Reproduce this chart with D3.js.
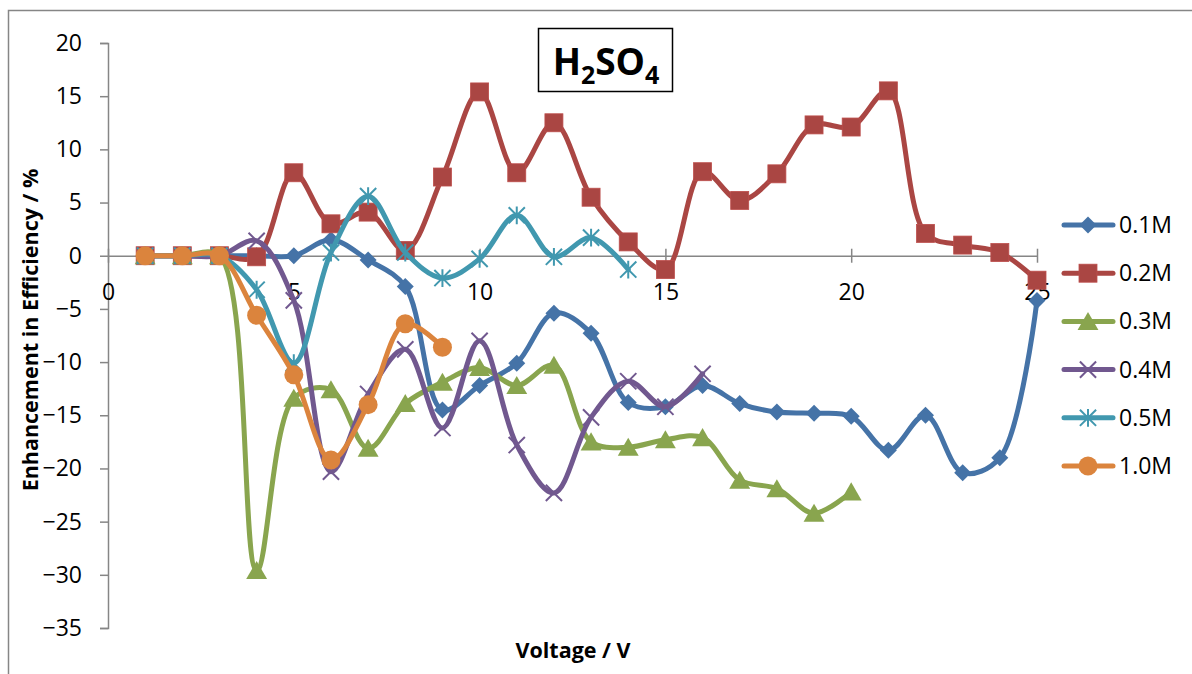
<!DOCTYPE html>
<html>
<head>
<meta charset="utf-8">
<script src="https://cdn.jsdelivr.net/npm/d3@7/dist/d3.min.js"></script>
<style>
  html, body { margin: 0; padding: 0; background: #fff; }
  svg { display: block; font-family: "Open Sans", "Noto Sans", sans-serif; }
</style>
</head>
<body>
<svg id="chart" width="1192" height="674"></svg>
<script>
// ---- data ----
const seriesNames = ["0.1M", "0.2M", "0.3M", "0.4M", "0.5M", "1.0M"];
const voltage = d3.range(1, 26);
const s01 = [0, 0, 0, 0, 0, 1.5, -0.4, -2.9, -14.5, -12.2, -10.1, -5.4, -7.3, -13.8, -14.2, -12.2, -13.9, -14.7, -14.8, -15.1, -18.3, -15.0, -20.4, -19.0, -4.2];
const s02 = [0, 0, 0, -0.1, 7.8, 3.0, 4.1, 0.5, 7.4, 15.4, 7.8, 12.5, 5.5, 1.3, -1.3, 7.9, 5.2, 7.7, 12.3, 12.1, 15.5, 2.1, 1.0, 0.3, -2.3];
const s03 = [0, 0, 0, -29.6, -13.4, -12.6, -18.1, -13.9, -11.9, -10.5, -12.2, -10.3, -17.5, -18.0, -17.3, -17.1, -21.1, -21.9, -24.2, -22.2];
const s04 = [0, 0, 0, 1.4, -4.2, -20.3, -13.0, -8.8, -16.2, -8.0, -17.8, -22.3, -15.2, -11.8, -14.2, -11.1];
const s05 = [0, 0, 0, -3.2, -10.1, 0.3, 5.6, 0.3, -2.1, -0.3, 3.8, -0.1, 1.7, -1.3];
const s10 = [0, 0, 0, -5.6, -11.2, -19.2, -14.0, -6.4, -8.6];
const seriesValues = [s01, s02, s03, s04, s05, s10];
const colors = ["#4573A7", "#AA4643", "#89A54E", "#71588F", "#4198AF", "#DB843D"];
const markers = ["diamond", "square", "triangle", "x", "asterisk", "circle"];
const xTicks = [0, 5, 10, 15, 20, 25];
const yTicks = [20, 15, 10, 5, 0, -5, -10, -15, -20, -25, -30, -35];

// ---- layout ----
const svg = d3.select("#chart");
const x = d3.scaleLinear().domain([0, 25]).range([108, 1037]);
const y = d3.scaleLinear().domain([-35, 20]).range([628, 43]);
const axisColor = "#868686";

// outer chart border (left & top visible)
svg.append("path")
  .attr("d", "M8.5,674 L8.5,10.5 L1192,10.5")
  .attr("fill", "none").attr("stroke", axisColor).attr("stroke-width", 1.5);

// y axis
const yAxis = d3.axisLeft(y).tickValues(yTicks).tickSize(8).tickPadding(18).tickFormat(d3.format("d"));
const gy = svg.append("g").attr("transform", "translate(108,0)").call(yAxis);
gy.select(".domain").attr("stroke", axisColor).attr("stroke-width", 1.5);
gy.selectAll(".tick line").attr("stroke", axisColor).attr("stroke-width", 1.5);
gy.selectAll(".tick text").attr("font-size", 23).attr("fill", "#000")
  .attr("font-family", "'Open Sans', sans-serif");

// x axis at y=0
const xAxis = d3.axisBottom(x).tickValues(xTicks).tickSize(0).tickFormat(d3.format("d"));
const gx = svg.append("g").attr("transform", `translate(0,${y(0)})`).call(xAxis);
gx.select(".domain").attr("stroke", axisColor).attr("stroke-width", 1.5);
gx.selectAll(".tick line").remove();
gx.selectAll(".tick").append("line")
  .attr("y1", -7).attr("y2", 7).attr("stroke", axisColor).attr("stroke-width", 1.5);
gx.selectAll(".tick text").attr("font-size", 23).attr("fill", "#000")
  .attr("y", 28).attr("font-family", "'Open Sans', sans-serif");

// axis titles
svg.append("text")
  .attr("x", 573).attr("y", 658)
  .attr("text-anchor", "middle").attr("font-weight", "bold").attr("font-size", 21.5)
  .text("Voltage / V");
svg.append("text")
  .attr("transform", "translate(38,330) rotate(-90)")
  .attr("text-anchor", "middle").attr("font-weight", "bold").attr("font-size", 21.5)
  .text("Enhancement in Efficiency / %");

// title box
svg.append("rect").attr("x", 538.5).attr("y", 28.5).attr("width", 134).attr("height", 63)
  .attr("fill", "#fff").attr("stroke", "#000").attr("stroke-width", 1.5);
const title = svg.append("text").attr("x", 606).attr("y", 75)
  .attr("text-anchor", "middle").attr("font-weight", "bold").attr("font-size", 37);
title.append("tspan").text("H");
title.append("tspan").attr("font-size", 25).attr("dy", 9).text("2");
title.append("tspan").attr("dy", -9).text("SO");
title.append("tspan").attr("font-size", 25).attr("dy", 9).text("4");

// marker drawing
function drawMarker(g, type, color, size) {
  const s = size;
  if (type === "diamond") {
    g.append("path").attr("d", `M0,${-s/2} L${s/2},0 L0,${s/2} L${-s/2},0 Z`).attr("fill", color);
  } else if (type === "square") {
    g.append("rect").attr("x", -s/2).attr("y", -s/2).attr("width", s).attr("height", s)
      .attr("fill", color).attr("stroke", d3.color(color).brighter(0.3)).attr("stroke-width", 0.8);
  } else if (type === "triangle") {
    g.append("path").attr("d", `M0,${-s/2} L${s*0.55},${s*0.45} L${-s*0.55},${s*0.45} Z`).attr("fill", color);
  } else if (type === "x") {
    const h = s * 0.45;
    g.append("path").attr("d", `M${-h},${-h} L${h},${h} M${-h},${h} L${h},${-h}`)
      .attr("stroke", color).attr("stroke-width", 2);
  } else if (type === "asterisk") {
    const h = s * 0.45;
    g.append("path").attr("d", `M${-h},${-h} L${h},${h} M${-h},${h} L${h},${-h} M0,${-h*1.1} L0,${h*1.1}`)
      .attr("stroke", color).attr("stroke-width", 2);
  } else if (type === "circle") {
    g.append("circle").attr("r", s/2).attr("fill", color);
  }
}
const markerSize = { diamond: 17, square: 18, triangle: 19, x: 18, asterisk: 18, circle: 19 };

// series
const line = d3.line().x(d => x(d[0])).y(d => y(d[1])).curve(d3.curveCatmullRom.alpha(0.5));
seriesValues.forEach((vals, i) => {
  const pts = vals.map((v, j) => [voltage[j], v]);
  const g = svg.append("g");
  g.append("path").datum(pts).attr("d", line)
    .attr("fill", "none").attr("stroke", colors[i]).attr("stroke-width", 5)
    .attr("stroke-linejoin", "round").attr("stroke-linecap", "round");
  pts.forEach(p => {
    const mg = g.append("g").attr("transform", `translate(${x(p[0])},${y(p[1])})`);
    drawMarker(mg, markers[i], colors[i], markerSize[markers[i]]);
  });
});

// legend
const legend = svg.append("g");
seriesNames.forEach((name, i) => {
  const ly = 225 + i * 48.2;
  const lg = legend.append("g").attr("transform", `translate(0,${ly})`);
  lg.append("line").attr("x1", 1064).attr("x2", 1113).attr("y1", 0).attr("y2", 0)
    .attr("stroke", colors[i]).attr("stroke-width", 5).attr("stroke-linecap", "round");
  const mg = lg.append("g").attr("transform", "translate(1088,0)");
  drawMarker(mg, markers[i], colors[i], markerSize[markers[i]]);
  lg.append("text").attr("x", 1119).attr("y", 0).attr("dy", "0.35em")
    .attr("font-size", 23).attr("fill", "#000").text(name);
});
</script>
</body>
</html>
